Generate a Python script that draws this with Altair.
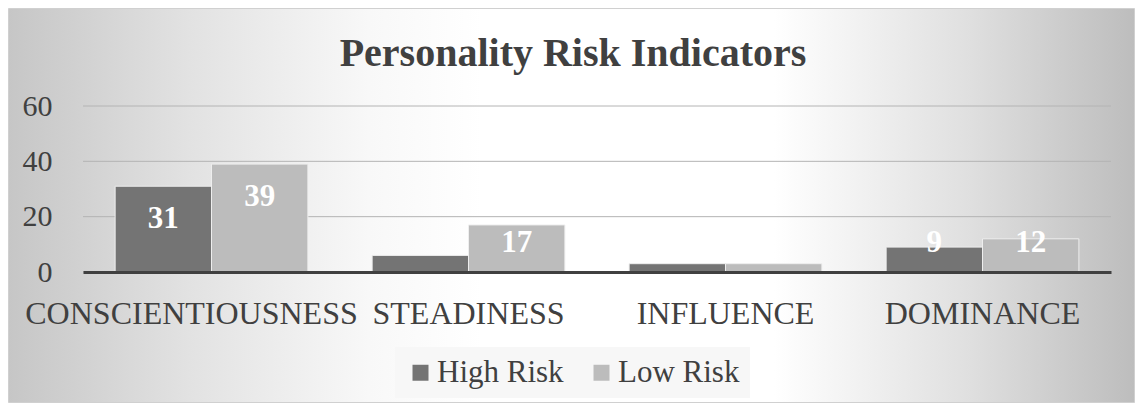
import altair as alt
import pandas as pd

categories = ["CONSCIENTIOUSNESS", "STEADINESS", "INFLUENCE", "DOMINANCE"]
series = ["High Risk", "Low Risk"]
high_risk = [31, 6, 3, 9]
low_risk = [39, 17, 3, 12]
y_ticks = [0, 20, 40, 60]
colors = ["#747474", "#bcbcbc"]
title_text = "Personality Risk Indicators"

rows = []
for c, h, l in zip(categories, high_risk, low_risk):
    rows.append({"cat": c, "series": series[0], "value": h})
    rows.append({"cat": c, "series": series[1], "value": l})
df = pd.DataFrame(rows)

FONT = "Liberation Serif"
W, H = 1028, 166
PL, PT, PR, PB = 75, 98, 24, 131

bg = alt.Chart(pd.DataFrame({"a": [0]})).mark_rect(
    color={
        "gradient": "linear", "x1": 0, "y1": 0, "x2": 1, "y2": 0,
        "stops": [
            {"offset": 0.0, "color": "#c6c6c6"},
            {"offset": 0.16, "color": "#e2e2e2"},
            {"offset": 0.32, "color": "#f8f8f8"},
            {"offset": 0.42, "color": "#ffffff"},
            {"offset": 0.68, "color": "#ffffff"},
            {"offset": 0.85, "color": "#e0e0e0"},
            {"offset": 1.0, "color": "#bdbdbd"},
        ],
    },
    stroke="#d0d0d0", strokeWidth=1,
).encode(
    x=alt.value(-PL + 0.5), x2=alt.value(W + PR - 0.5),
    y=alt.value(-PT + 0.5), y2=alt.value(H + PB - 0.5),
)

title = alt.Chart(pd.DataFrame({"t": [title_text]})).mark_text(
    font=FONT, fontSize=40, fontWeight="bold", color="#404040",
    align="center", baseline="alphabetic",
).encode(text="t:N", x=alt.value(490), y=alt.value(-40))

grid = alt.Chart(pd.DataFrame({"v": y_ticks})).mark_rule(
    color="#b4b4b4", strokeWidth=1
).encode(y=alt.Y("v:Q"))

base = alt.Chart(df)

x_enc = alt.X(
    "cat:N", sort=categories, title=None,
    scale=alt.Scale(paddingInner=0.25, paddingOuter=0.125),
    axis=alt.Axis(
        labelAngle=0, ticks=False, domain=True, domainColor="#404040", domainWidth=3,
        labelFont=FONT, labelFontSize=32, labelColor="#404040", labelPadding=26,
        labelLimit=0, labelOverlap=False, grid=False, zindex=1,
        labelOffset={
            "condition": {"test": "datum.value == 'CONSCIENTIOUSNESS'", "value": -20},
            "value": 0,
        },
    ),
)
y_enc = alt.Y(
    "value:Q", title=None,
    scale=alt.Scale(domain=[0, 60], nice=False),
    axis=alt.Axis(
        values=y_ticks, ticks=False, domain=False, grid=False,
        labelFont=FONT, labelFontSize=30, labelColor="#404040",
        labelPadding=31, zindex=1,
    ),
)

bars = base.mark_bar(stroke="#eeeeee", strokeWidth=1).encode(
    x=x_enc,
    xOffset=alt.XOffset("series:N", sort=series),
    y=y_enc,
    color=alt.Color(
        "series:N", sort=series,
        scale=alt.Scale(domain=series, range=colors),
        legend=alt.Legend(
            title=None, orient="none", legendX=312, legendY=241, direction="horizontal",
            symbolType="square", symbolSize=256, symbolStrokeWidth=0,
            labelFont=FONT, labelFontSize=31, labelColor="#404040",
            labelOffset=1, columnPadding=22, padding=10, fillColor="#f7f7f7",
        ),
    ),
)

labels = base.transform_filter("datum.value > 7").transform_calculate(
    lab_pos="max(datum.value - 12, 10.5)"
).mark_text(
    font=FONT, fontSize=31, fontWeight="bold", color="white", baseline="middle"
).encode(
    x=alt.X("cat:N", sort=categories),
    xOffset=alt.XOffset("series:N", sort=series),
    y=alt.Y("lab_pos:Q"),
    text=alt.Text("value:Q"),
)

chart = alt.layer(bg, title, grid, bars, labels).properties(
    width=W, height=H,
    padding={"left": PL, "top": PT, "right": PR, "bottom": PB},
    autosize=alt.AutoSizeParams(type="none"),
).configure_view(stroke=None).configure(background="white")

chart.save("out.html", embed_options={"renderer": "svg", "actions": False})
